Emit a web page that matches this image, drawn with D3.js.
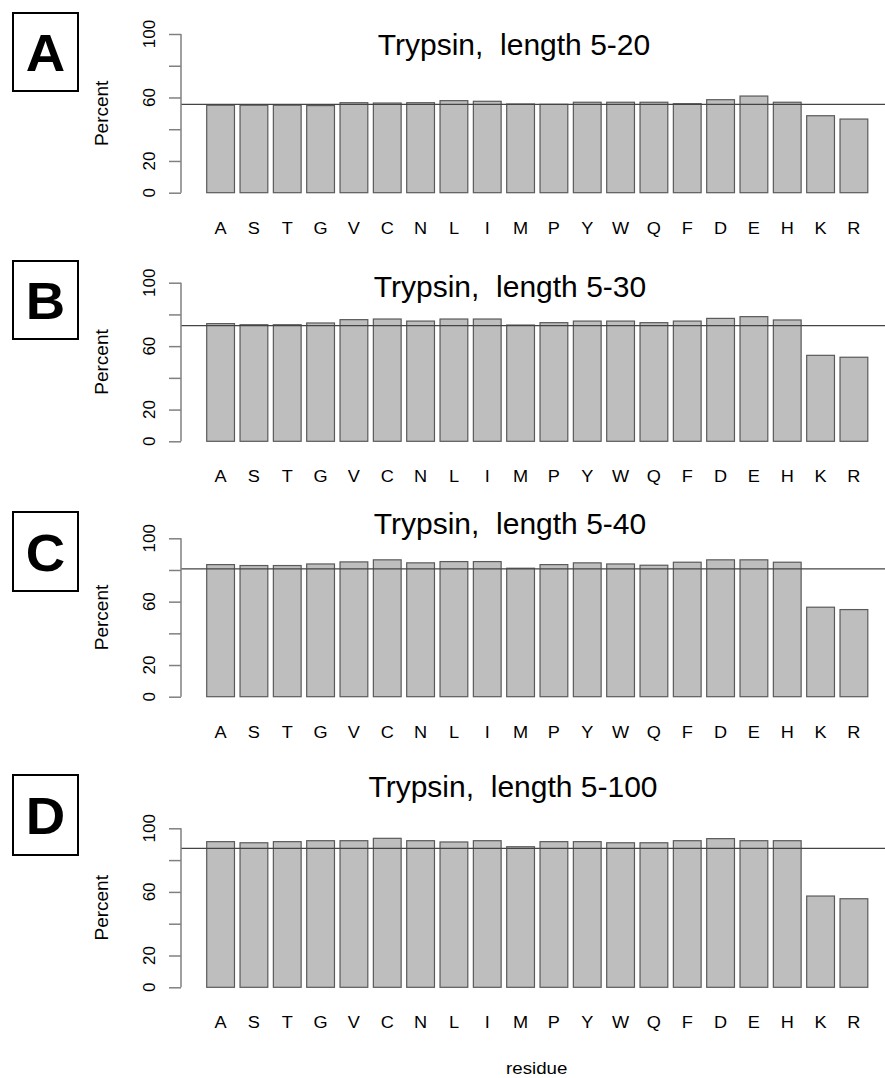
<!DOCTYPE html>
<html>
<head>
<meta charset="utf-8">
<script src="https://cdn.jsdelivr.net/npm/d3@7"></script>
<style>
  html, body { margin: 0; padding: 0; background: #fff; }
  svg { display: block; }
  text { font-family: "Liberation Sans", Arial, sans-serif; }
</style>
</head>
<body>
<svg id="chart" width="885" height="1078"></svg>
<script>
// ---- data ----
const residues = ["A","S","T","G","V","C","N","L","I","M","P","Y","W","Q","F","D","E","H","K","R"];
const panelLetters = ["A","B","C","D"];
const panelTitles = ["Trypsin,  length 5-20","Trypsin,  length 5-30","Trypsin,  length 5-40","Trypsin,  length 5-100"];
const valuesA = [55.1,55.1,55.1,54.9,56.7,56.5,56.7,58.0,57.6,55.9,55.7,57.0,57.0,57.0,56.1,58.6,60.9,57.0,48.5,46.4];
const valuesB = [74.2,73.5,73.5,74.6,76.7,77.1,75.8,77.1,77.1,73.3,74.8,75.8,75.8,74.8,75.8,77.5,78.6,76.5,54.2,53.0];
const valuesC = [83.4,82.8,82.8,83.8,85.1,86.4,84.5,85.3,85.3,81.1,83.4,84.5,83.8,83.0,84.9,86.4,86.4,84.9,56.5,55.0];
const valuesD = [91.6,90.9,91.6,92.2,92.2,93.7,92.2,91.4,92.2,88.4,91.6,91.6,90.9,90.9,92.2,93.5,92.2,92.2,57.4,55.7];
const meanLines = [55.7, 72.9, 80.7, 87.4];
const yTicks = [0,20,40,60,80,100];
const yTickLabels = ["0","20","","60","","100"];
const yLabel = "Percent";
const xLabel = "residue";

// ---- layout ----
const series = [valuesA, valuesB, valuesC, valuesD];
const zeroY = [192.7, 441.3, 696.7, 987.3];
const topY  = [34.0, 282.7, 538.3, 828.3];
const boxY  = [[13,91],[261,339],[512,591],[775,855]];
const titleY = [55, 296.7, 534, 797.3];
const titleX = [514, 510, 510, 513];
const axisX = 181;
const sx = 1.1; // slight horizontal stretch of the source image

const svg = d3.select("#chart");

const x = d3.scaleBand()
  .domain(residues)
  .range([206.7, 867.8])
  .paddingInner(0.2/1.2)
  .paddingOuter(0);

series.forEach((vals, p) => {
  const y = d3.scaleLinear().domain([0,100]).range([zeroY[p], topY[p]]);
  const g = svg.append("g");

  // panel letter box
  g.append("rect")
    .attr("x", 13).attr("y", boxY[p][0])
    .attr("width", 65).attr("height", boxY[p][1]-boxY[p][0])
    .attr("fill", "none").attr("stroke", "#000").attr("stroke-width", 2);
  g.append("text")
    .attr("transform", `translate(45.5,${(boxY[p][0]+boxY[p][1])/2 + 19}) scale(1.05,1)`)
    .attr("text-anchor", "middle")
    .attr("font-size", 52).attr("font-weight", "bold")
    .text(panelLetters[p]);

  // title
  g.append("text")
    .attr("x", titleX[p]).attr("y", titleY[p])
    .attr("text-anchor", "middle")
    .attr("font-size", 30)
    .style("white-space", "pre")
    .text(panelTitles[p]);

  // bars
  g.selectAll("rect.bar").data(residues).join("rect")
    .attr("class", "bar")
    .attr("x", d => x(d))
    .attr("width", x.bandwidth())
    .attr("y", (d,i) => y(vals[i]))
    .attr("height", (d,i) => y(0) - y(vals[i]))
    .attr("fill", "#bebebe")
    .attr("stroke", "#5a5a5a")
    .attr("stroke-width", 1.2);

  // mean line
  g.append("line")
    .attr("x1", axisX).attr("x2", 885)
    .attr("y1", y(meanLines[p])).attr("y2", y(meanLines[p]))
    .attr("stroke", "#444").attr("stroke-width", 1.2);

  // y axis
  const axis = d3.axisLeft(y).tickValues(yTicks).tickSize(12).tickFormat("");
  const ag = g.append("g").attr("transform", `translate(${axisX},0)`).call(axis);
  ag.select(".domain").attr("d", `M0,${y(0)}V${y(100)}`).attr("stroke", "#808080").attr("stroke-width", 1.5);
  ag.selectAll(".tick line").attr("stroke", "#808080").attr("stroke-width", 1.5);

  // y tick labels (rotated)
  g.selectAll("text.ytl").data(yTicks.map((t,i)=>({t, lab: yTickLabels[i]})).filter(d => d.lab))
    .join("text")
    .attr("class", "ytl")
    .attr("transform", d => `translate(154.5,${y(d.t)}) rotate(-90)`)
    .attr("text-anchor", "middle")
    .attr("font-size", 17)
    .text(d => d.lab);

  // y label
  g.append("text")
    .attr("transform", `translate(108,${(y(0)+y(100))/2}) rotate(-90)`)
    .attr("text-anchor", "middle")
    .attr("font-size", 19)
    .text(yLabel);

  // x tick labels
  g.selectAll("text.xtl").data(residues).join("text")
    .attr("class", "xtl")
    .attr("transform", d => `translate(${x(d) + x.bandwidth()/2},${y(0) + 41}) scale(${sx},1)`)
    .attr("text-anchor", "middle")
    .attr("font-size", 16.5)
    .text(d => d);
});

svg.append("text")
  .attr("transform", `translate(536.7,1074) scale(${sx},1)`)
  .attr("text-anchor", "middle")
  .attr("font-size", 17)
  .text(xLabel);
</script>
</body>
</html>
